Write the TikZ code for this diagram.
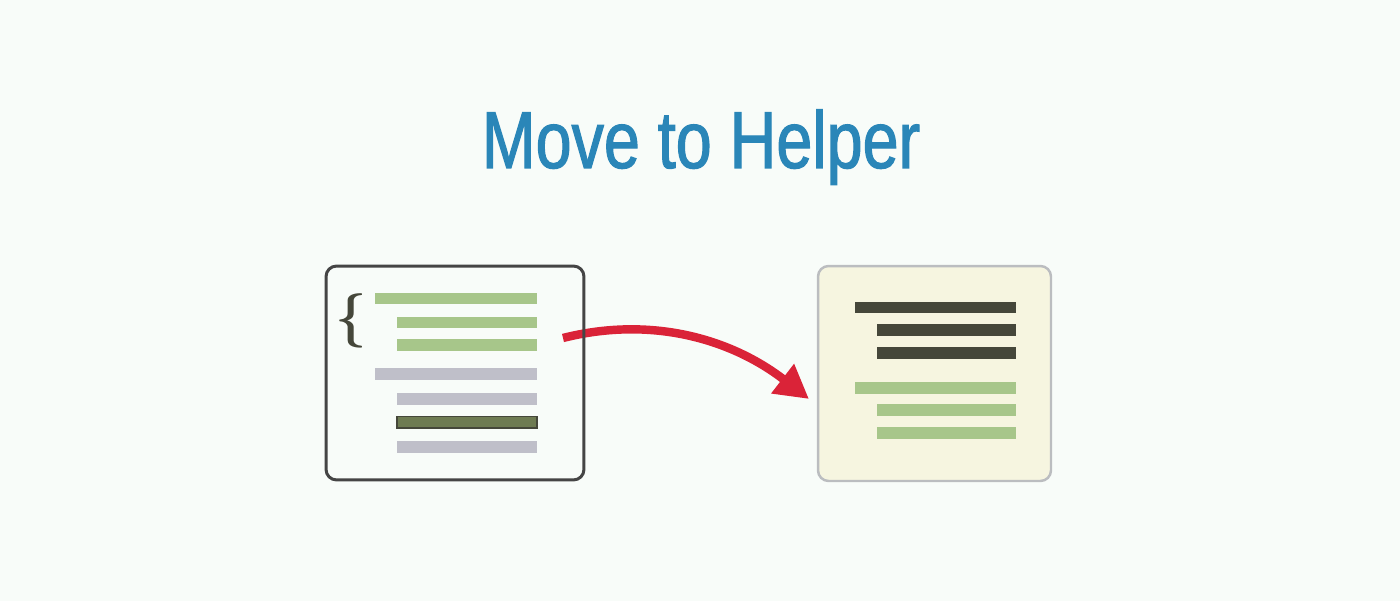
\documentclass[tikz,border=0pt]{standalone}
\usepackage{fontspec}
\newfontfamily\titlefont[FakeStretch=0.8,FakeBold=1.4]{Liberation Sans}
\usetikzlibrary{arrows.meta,positioning}

\definecolor{pagebg}{HTML}{F8FCF9}
\definecolor{titleblue}{HTML}{2A86B8}
\definecolor{codegreen}{HTML}{A7C68A}
\definecolor{codegray}{HTML}{BFBFC9}
\definecolor{codedark}{HTML}{45473A}
\definecolor{codepick}{HTML}{6E7B52}
\definecolor{boxdark}{HTML}{454545}
\definecolor{boxlight}{HTML}{BBBDC0}
\definecolor{helperfill}{HTML}{F6F5E0}
\definecolor{movered}{HTML}{DA2338}

\begin{document}
\begin{tikzpicture}[
    x=0.02cm, y=-0.02cm,
    title/.style={font=\titlefont\fontsize{46}{46}\selectfont, text=titleblue, anchor=base},
    codebox/.style={rounded corners=6pt, line width=1.7pt, draw=boxdark,
        minimum width=51.6mm, minimum height=42.8mm, inner sep=0pt},
    helperbox/.style={codebox, draw=boxlight, line width=1.4pt, fill=helperfill,
        minimum width=46.6mm, minimum height=43mm},
    brace/.style={font=\fontsize{31}{31}\selectfont\bfseries, text=codedark, inner sep=0pt},
    move/.style={-{Triangle[length=19pt,width=20pt]}, line width=4.8pt, draw=movered},
]

% ---- page ----
\fill[pagebg] (0,0) rectangle (1400,601);
\useasboundingbox (0,0) rectangle (1400,601);

% ---- title ----
\node[title] (head) at (701,168) {Move to Helper};

% ---- helper (right) ----
\node[helperbox] (helper) at (934.5,373.5) {};
\foreach \xa/\ya/\col in {855/302/codedark, 877/324/codedark, 877/347/codedark,
                          855/382/codegreen, 877/404/codegreen, 877/427/codegreen}
    \fill[\col] (\xa,\ya) rectangle (1016,\ya+11.5);

% ---- move arrow ----
\coordinate (src) at (563,338);
\coordinate (dst) at (809,399);
\draw[move] (src) .. controls (650,316) and (730,338) .. (dst);

% ---- source code (left) ----
\node[codebox] (code) at (455,373) {};
\node[brace] (open) at (351,320.5) {\{};
\foreach \xa/\ya/\col in {375/293/codegreen, 397/317/codegreen, 397/339/codegreen,
                          375/368/codegray, 397/393/codegray, 397/441/codegray}
    \fill[\col] (\xa,\ya) rectangle (537,\ya+11.5);
\draw[fill=codepick, draw=codedark, line width=0.6pt] (397,416.5) rectangle (537,428);

\end{tikzpicture}
\end{document}
